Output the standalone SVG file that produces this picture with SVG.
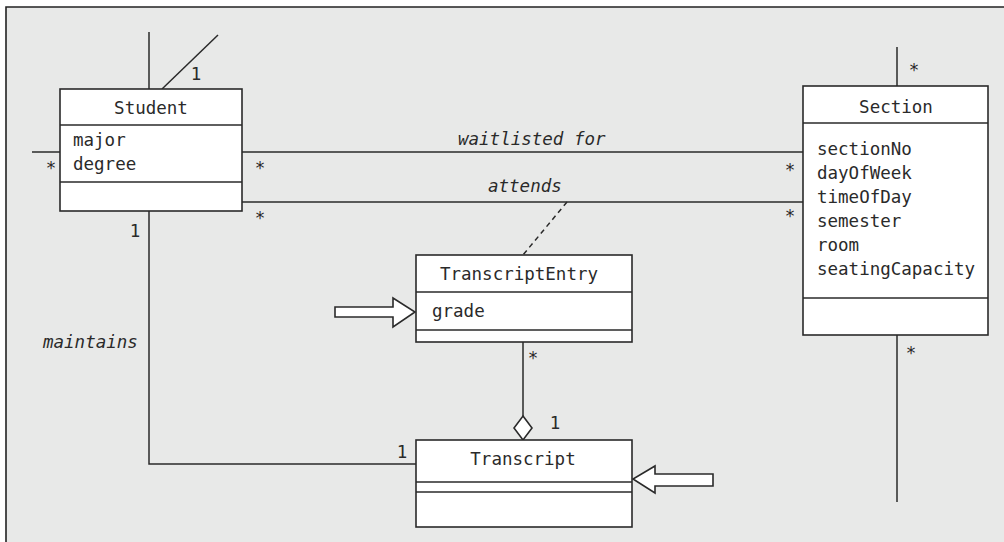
<svg xmlns="http://www.w3.org/2000/svg" width="1004" height="542" viewBox="0 0 1004 542">
<style>
.bg{fill:#e8e9e8;stroke:none}
.frame{fill:none;stroke:#222;stroke-width:1.6}
.box{fill:#fff;stroke:#2a2a2a;stroke-width:1.6}
.ln{fill:none;stroke:#2a2a2a;stroke-width:1.5}
.dash{fill:none;stroke:#2a2a2a;stroke-width:1.5;stroke-dasharray:5,4}
text{font-family:"DejaVu Sans Mono","Liberation Mono",monospace;font-size:17.5px;fill:#2a2a2a}
.c{text-anchor:middle}
.it{font-style:italic}
.m{text-anchor:middle}
</style>
<rect x="0" y="0" width="1004" height="542" fill="#fff"/>
<rect class="bg" x="6" y="7" width="998" height="535"/>
<path class="frame" d="M6,542 V7 H1004"/>

<g id="connectors">
  <line class="ln" x1="149" y1="32" x2="149" y2="89"/>
  <line class="ln" x1="162" y1="89" x2="218" y2="35"/>
  <line class="ln" x1="32" y1="152" x2="60" y2="152"/>
  <line class="ln" x1="242" y1="152" x2="803" y2="152"/>
  <line class="ln" x1="242" y1="202" x2="803" y2="202"/>
  <line class="ln" x1="897" y1="47" x2="897" y2="86"/>
  <line class="ln" x1="897" y1="335" x2="897" y2="502"/>
  <line class="dash" x1="567" y1="202" x2="523" y2="255"/>
  <polyline class="ln" points="149,211 149,464 416,464"/>
  <line class="ln" x1="523" y1="342" x2="523" y2="416"/>
  <polygon class="box" points="523,416 532,428 523,440 514,428"/>
  <polygon class="box" points="335,307 393,307 393,298 415,312 393,327 393,317 335,317"/>
  <polygon class="box" points="713,474 655,474 655,466 633,479 655,493 655,486 713,486"/>
  <text class="m" x="196" y="80">1</text>
  <text class="m" x="51" y="174">*</text>
  <text class="m" x="260" y="174">*</text>
  <text class="m" x="260" y="224">*</text>
  <text class="m" x="790" y="176">*</text>
  <text class="m" x="790" y="222">*</text>
  <text class="m" x="914" y="76">*</text>
  <text class="m" x="911" y="359">*</text>
  <text class="m" x="533" y="364">*</text>
  <text class="m" x="135" y="237">1</text>
  <text class="m" x="402" y="458">1</text>
  <text class="m" x="555" y="429">1</text>
  <text class="it" x="458" y="145">waitlisted for</text>
  <text class="it" x="488" y="192">attends</text>
  <text class="it" x="43" y="348">maintains</text>
</g>

<g id="student">
  <rect class="box" x="60" y="89" width="182" height="122"/>
  <line class="ln" x1="60" y1="125" x2="242" y2="125"/>
  <line class="ln" x1="60" y1="182" x2="242" y2="182"/>
  <text class="c" x="151" y="114">Student</text>
  <text x="73" y="146">major</text>
  <text x="73" y="170">degree</text>
</g>

<g id="section">
  <rect class="box" x="803" y="86" width="185" height="249"/>
  <line class="ln" x1="803" y1="123" x2="988" y2="123"/>
  <line class="ln" x1="803" y1="298" x2="988" y2="298"/>
  <text class="c" x="896" y="113">Section</text>
  <text x="817" y="155">sectionNo</text>
  <text x="817" y="179">dayOfWeek</text>
  <text x="817" y="203">timeOfDay</text>
  <text x="817" y="227">semester</text>
  <text x="817" y="251">room</text>
  <text x="817" y="275">seatingCapacity</text>
</g>

<g id="transcriptentry">
  <rect class="box" x="416" y="255" width="216" height="87"/>
  <line class="ln" x1="416" y1="292" x2="632" y2="292"/>
  <line class="ln" x1="416" y1="330" x2="632" y2="330"/>
  <text class="c" x="519" y="280">TranscriptEntry</text>
  <text x="432" y="317">grade</text>
</g>

<g id="transcript">
  <rect class="box" x="416" y="440" width="216" height="87"/>
  <line class="ln" x1="416" y1="482" x2="632" y2="482"/>
  <line class="ln" x1="416" y1="492" x2="632" y2="492"/>
  <text class="c" x="523" y="465">Transcript</text>
</g>
</svg>
